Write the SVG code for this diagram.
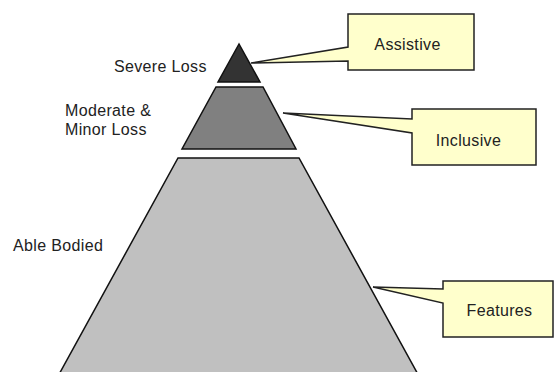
<svg xmlns="http://www.w3.org/2000/svg" width="555" height="372" viewBox="0 0 555 372">
<style>
.lbl{font-family:"Liberation Sans",Arial,sans-serif;font-size:16px;letter-spacing:0.35px;fill:#222}
.tier{stroke:#111;stroke-width:1.5;stroke-linejoin:miter}
.callout{fill:#ffffcc;stroke:#222;stroke-width:1.5;stroke-linejoin:miter}
</style>
<rect width="555" height="372" fill="#fff"/>
<g id="tier-severe">
<polygon class="tier" points="239,44 218,82 260,82" fill="#333333"/>
<text class="lbl" x="114" y="72">Severe Loss</text>
</g>
<g id="tier-moderate">
<polygon class="tier" points="216,87 263,87 296,149 182,149" fill="#808080"/>
<text class="lbl" x="65" y="116">Moderate &amp;</text>
<text class="lbl" x="65" y="135">Minor Loss</text>
</g>
<g id="tier-able">
<polygon class="tier" points="178,158 299,158 420,378 57,378" fill="#c0c0c0"/>
<text class="lbl" x="13" y="251">Able Bodied</text>
</g>
<g id="connectors">
<g id="callout-assistive">
<polygon class="callout" points="348,14 474,14 474,70 348,70 348,61 251,63 348,47"/>
<text class="lbl" x="407.5" y="50" text-anchor="middle">Assistive</text>
</g>
<g id="callout-inclusive">
<polygon class="callout" points="412,109 536,109 536,165 412,165 412,133 283,113 412,119"/>
<text class="lbl" x="468.5" y="146" text-anchor="middle">Inclusive</text>
</g>
<g id="callout-features">
<polygon class="callout" points="443,281 553,281 553,337 443,337 443,303 373,287 443,289"/>
<text class="lbl" x="499.5" y="316" text-anchor="middle">Features</text>
</g>
</g>
</svg>
